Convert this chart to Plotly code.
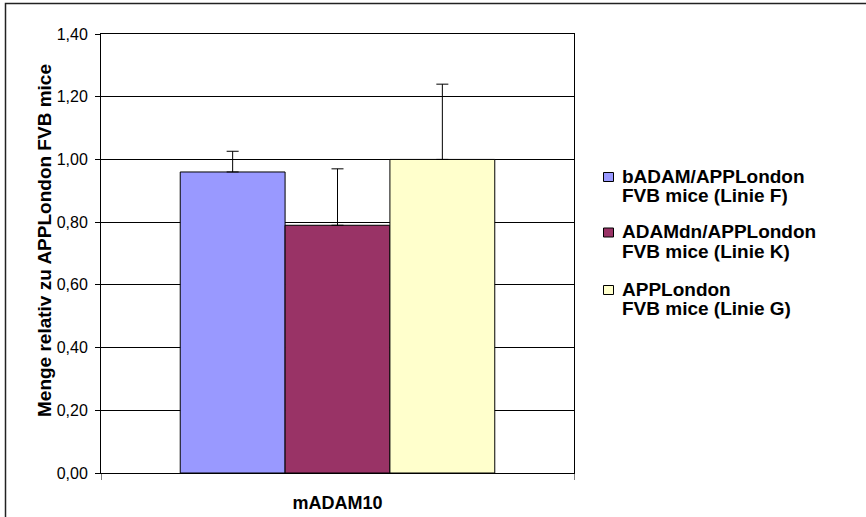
import plotly.graph_objects as go

# Data
category = ["mADAM10"]
series_names = [
    "bADAM/APPLondon\nFVB mice (Linie F)",
    "ADAMdn/APPLondon\nFVB mice (Linie K)",
    "APPLondon\nFVB mice (Linie G)",
]
values = [0.96, 0.79, 1.00]
errors_plus = [0.066, 0.18, 0.24]
colors = ["#9999FF", "#993366", "#FFFFCC"]
y_ticks = [0.0, 0.2, 0.4, 0.6, 0.8, 1.0, 1.2, 1.4]

W, H = 866, 517
ML, MR, MT, MB = 101, 292, 34, 44
PW, PH = W - ML - MR, H - MT - MB
FONT = "Liberation Sans, Arial, sans-serif"
LEG_SIZE = 19
LINE_STEP = 19.5


def px_x(x):
    return (x - ML) / PW


def px_y(y):
    return (H - MB - y) / PH


fig = go.Figure()
for name, v, e, c in zip(series_names, values, errors_plus, colors):
    fig.add_trace(go.Bar(
        x=category, y=[v], name=name.replace("\n", " "),
        marker=dict(color=c, line=dict(color="#000000", width=1)),
        error_y=dict(type="data", array=[e], arrayminus=[0], symmetric=False,
                     color="#000000", thickness=1, width=6),
        showlegend=False,
    ))

shapes = [
    # outer chart frame
    dict(type="rect", xref="paper", yref="paper",
         x0=px_x(5.5), x1=px_x(900), y0=px_y(560), y1=px_y(3.5),
         line=dict(color="#222222", width=1.5), fillcolor="rgba(0,0,0,0)",
         layer="above"),
]
annotations = [
    dict(text="<b>Menge relativ zu APPLondon FVB mice</b>", textangle=-90,
         xref="paper", yref="paper", x=px_x(44), y=px_y(241),
         xanchor="center", yanchor="middle", showarrow=False,
         font=dict(family=FONT, size=19, color="#000000")),
]

# Legend drawn beside the plot area (baseline of first line per entry)
legend_baselines = [183.5, 239, 296.5]
for name, c, base in zip(series_names, colors, legend_baselines):
    sq = base - 6.5
    shapes.append(dict(type="rect", xref="paper", yref="paper",
                       x0=px_x(603.5), x1=px_x(613.5),
                       y0=px_y(sq + 4.5), y1=px_y(sq - 4.5),
                       fillcolor=c, line=dict(color="#000000", width=1)))
    for i, line in enumerate(name.split("\n")):
        b = base + i * LINE_STEP
        annotations.append(dict(
            text="<b>" + line + "</b>", xref="paper", yref="paper",
            x=px_x(621), y=px_y(b - 0.3465 * LEG_SIZE),
            xanchor="left", yanchor="middle", showarrow=False,
            height=LINE_STEP, borderpad=0, valign="middle",
            font=dict(family=FONT, size=LEG_SIZE, color="#000000")))

fig.update_layout(
    width=W, height=H,
    margin=dict(l=ML, r=MR, t=MT, b=MB, pad=0, autoexpand=False),
    paper_bgcolor="#FFFFFF", plot_bgcolor="#FFFFFF",
    barmode="group", bargap=0.335, bargroupgap=0,
    separators=",.",
    font=dict(family=FONT, color="#000000"),
    shapes=shapes, annotations=annotations,
)
fig.update_yaxes(
    range=[0, 1.4], tickvals=y_ticks, tickformat=".2f", automargin=False,
    showgrid=True, gridcolor="#000000", gridwidth=1,
    showline=True, linecolor="#000000", linewidth=1, mirror=True,
    ticks="outside", ticklen=5, tickcolor="#000000",
    tickfont=dict(family=FONT, size=16, color="#000000"),
    zeroline=False, ticklabelstandoff=4,
)
fig.update_xaxes(
    automargin=False,
    showline=True, linecolor="#000000", linewidth=1, mirror=True,
    ticks="outside", ticklen=6, tickcolor="#808080", tickson="boundaries",
    tickfont=dict(family=FONT, size=18, color="#000000"),
    tickprefix="<b>", ticksuffix="</b>", ticklabelstandoff=13,
)

fig.write_html("out.html")
